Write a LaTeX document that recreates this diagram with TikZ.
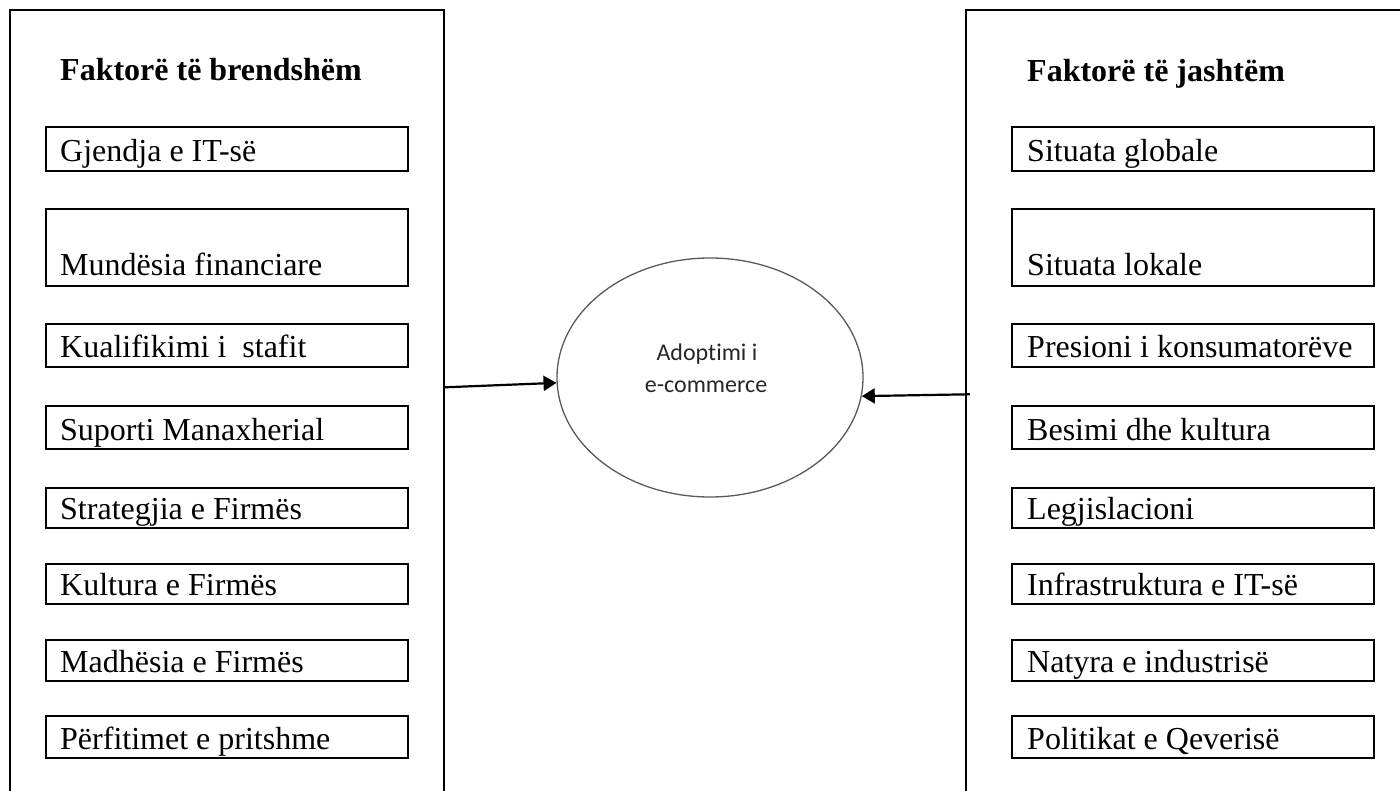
\documentclass[tikz,border=0pt]{standalone}
\usepackage{fontspec}
\setmainfont{Liberation Serif}
\newfontfamily\calibfont[Ligatures={NoCommon,NoContextual}]{Carlito}
\usetikzlibrary{shapes.geometric,arrows.meta,calc}

\tikzset{
  frame/.style={draw=black, line width=2pt},
  fbox/.style={draw=black, line width=2pt, rectangle, inner sep=0pt,
    minimum width=362pt, anchor=north west},
  ftext/.style={inner sep=0pt, anchor=base west,
    font=\fontsize{32}{38}\selectfont},
  head/.style={inner sep=0pt, anchor=base west,
    font=\fontsize{32}{38}\selectfont\bfseries},
  adoptshape/.style={ellipse, draw=black!65, line width=1.3pt, inner sep=0pt,
    minimum width=306pt, minimum height=239pt},
  ctext/.style={inner sep=0pt, anchor=base, text=black!85,
    font=\calibfont\fontsize{24}{28}\selectfont},
  arr/.style={draw=black, line width=2.2pt,
    -{Triangle[length=13pt,width=15pt]}}
}

\begin{document}
\begin{tikzpicture}[x=1pt,y=-1pt]
\useasboundingbox (0,0) rectangle (1400,791);

% outer frames, open at the bottom (left) and at the bottom and right (right)
\draw[frame] (10,792) |- (444,10) -- (444,792);
\draw[frame] (966,792) |- (1401,10);

% headings
\node[head] (lhead) at (60,81) {Faktorë të brendshëm};
\node[head] (rhead) at (1027,81.5) {Faktorë të jashtëm};

% factor boxes: index / top / height / baseline offset / left text / right text
\foreach \i/\t/\h/\b/\lt/\rt in {
  1/126/44/10/{Gjendja e IT-së}/{Situata globale},
  2/208/77/11.5/{Mundësia financiare}/{Situata lokale},
  3/323/43/10/{Kualifikimi i~ stafit}/{Presioni i konsumatorëve},
  4/405/43/10/{Suporti Manaxherial}/{Besimi dhe kultura},
  5/487/40/10/{Strategjia e Firmës}/{Legjislacioni},
  6/563/40/10/{Kultura e Firmës}/{Infrastruktura e IT-së},
  7/639/41/10/{Madhësia e Firmës}/{Natyra e industrisë},
  8/715/42/10/{Përfitimet e pritshme}/{Politikat e Qeverisë}}
{
  \node[fbox, minimum height=\h pt] (l\i) at (45,\t) {};
  \node[ftext] (l\i t) at ($(l\i.south west)+(15,-\b)$) {\lt};
  \node[fbox, minimum height=\h pt] (r\i) at (1011,\t) {};
  \node[ftext] (r\i t) at ($(r\i.south west)+(16,-\b)$) {\rt};
}

% central ellipse
\node[adoptshape] (adopt) at (710,377.5) {};
\node[ctext] (adopt1) at (707,360.7) {Adoptimi i};
\node[ctext] (adopt2) at (706,392) {e-commerce};

% connectors from the two frames into the ellipse
\coordinate (la) at (445,387.3);
\coordinate (ra) at (970,394.3);
\draw[arr] (la) -- (adopt.182.6);
\draw[arr] (ra) -- (adopt.-7.6);
\end{tikzpicture}
\end{document}
